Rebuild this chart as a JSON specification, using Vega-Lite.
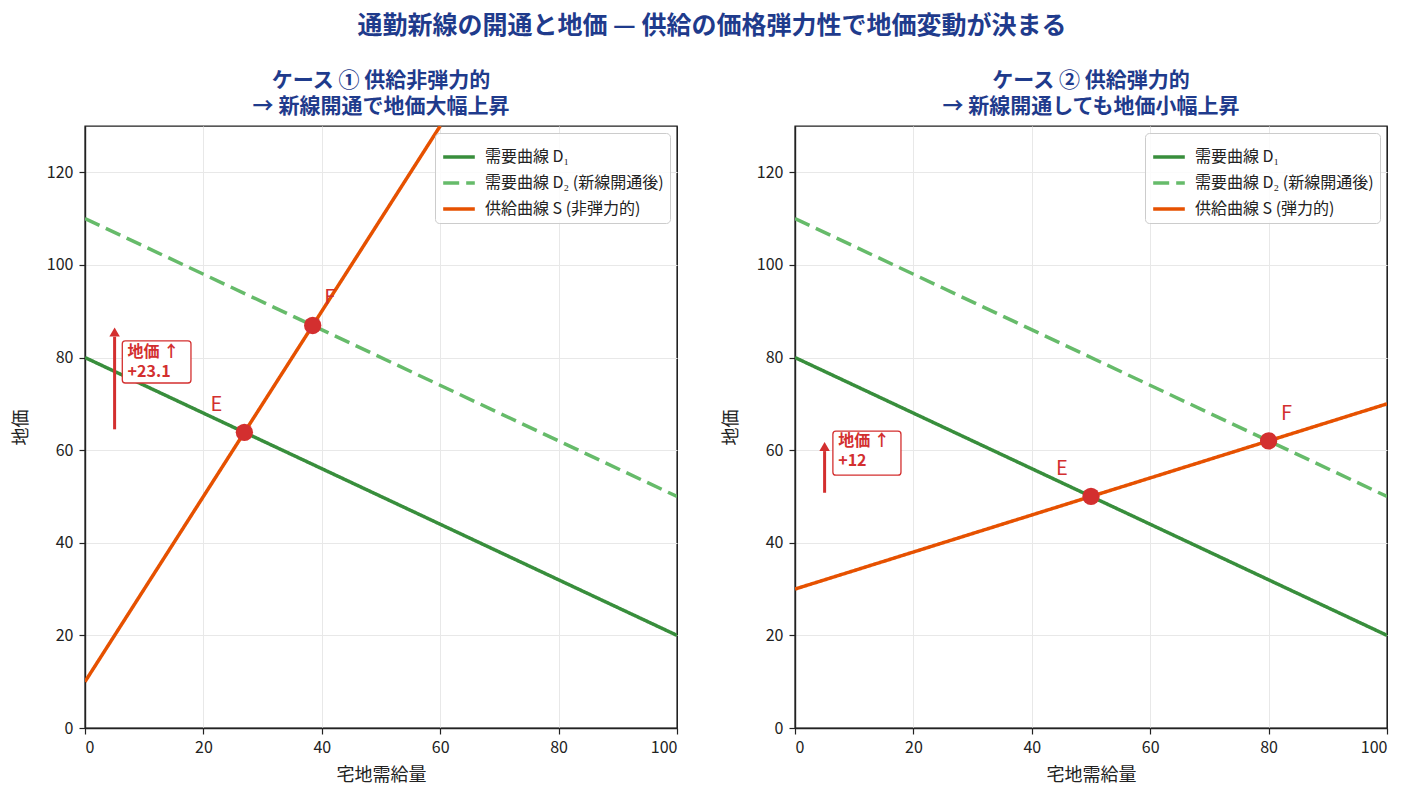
{
  "$schema": "https://vega.github.io/schema/vega-lite/v6.json",
  "background": "white",
  "padding": {"left": 11, "top": 14, "right": 10, "bottom": 5},
  "title": {
    "text": "通勤新線の開通と地価 — 供給の価格弾力性で地価変動が決まる",
    "fontSize": 25,
    "fontWeight": "bold",
    "color": "#1f3b8c",
    "anchor": "middle",
    "offset": 30,
    "dx": 12
  },
  "config": {
    "font": "Noto Sans CJK JP",
    "view": {"stroke": "#222222", "strokeWidth": 1.4},
    "axis": {
      "domain": true,
      "domainColor": "#222222",
      "domainWidth": 1.4,
      "grid": true,
      "tickColor": "#222222",
      "tickSize": 6,
      "tickWidth": 1.2,
      "labelFontSize": 16,
      "labelColor": "#222222",
      "titleFontSize": 18,
      "titleFontWeight": "normal",
      "titleColor": "#222222",
      "labelFont": "Noto Sans CJK JP",
      "titleFont": "Noto Sans CJK JP"
    },
    "axisX": {
      "labelPadding": 5,
      "titlePadding": 11,
      "gridColor": {"condition": {"test": "datum.value == 0 || datum.value == 100", "value": "#222222"}, "value": "#e8e8e8"}
    },
    "axisY": {
      "labelPadding": 6,
      "titlePadding": 16,
      "gridColor": {"condition": {"test": "datum.value == 0", "value": "#222222"}, "value": "#e8e8e8"}
    },
    "legend": {
      "orient": "top-right",
      "offset": 7,
      "fillColor": "rgba(255,255,255,0.8)",
      "strokeColor": "#cccccc",
      "cornerRadius": 4,
      "padding": 6,
      "labelFontSize": 16,
      "labelLimit": 400,
      "labelOffset": 8,
      "labelColor": "#222222",
      "labelFont": "Noto Sans CJK JP",
      "symbolType": "stroke",
      "symbolSize": 1000,
      "symbolStrokeWidth": 3.5,
      "rowPadding": -6
    },
    "title": {"font": "Noto Sans CJK JP"}
  },
  "datasets": {
    "lines1": [
      {"series": "需要曲線 D₁", "x": 0, "y": 80},
      {"series": "需要曲線 D₁", "x": 100, "y": 20},
      {"series": "需要曲線 D₂ (新線開通後)", "x": 0, "y": 110},
      {"series": "需要曲線 D₂ (新線開通後)", "x": 100, "y": 50},
      {"series": "供給曲線 S (非弾力的)", "x": 0, "y": 10},
      {"series": "供給曲線 S (非弾力的)", "x": 60, "y": 130}
    ],
    "pts1": [
      {"label": "E", "x": 26.92, "y": 63.85},
      {"label": "F", "x": 38.46, "y": 86.92}
    ],
    "ann1": [
      {"text": ["地価 ↑", "+23.1"], "tx": 7.2, "ty": 81.2, "bx": 6.3, "bx2": 17.9, "by": 74.5, "by2": 83.6, "ax": 5, "ay": 64.5, "ay2": 84.5, "tip": 85.5}
    ],
    "lines2": [
      {"series": "需要曲線 D₁", "x": 0, "y": 80},
      {"series": "需要曲線 D₁", "x": 100, "y": 20},
      {"series": "需要曲線 D₂ (新線開通後)", "x": 0, "y": 110},
      {"series": "需要曲線 D₂ (新線開通後)", "x": 100, "y": 50},
      {"series": "供給曲線 S (弾力的)", "x": 0, "y": 30},
      {"series": "供給曲線 S (弾力的)", "x": 100, "y": 70}
    ],
    "pts2": [
      {"label": "E", "x": 50, "y": 50},
      {"label": "F", "x": 80, "y": 62}
    ],
    "ann2": [
      {"text": ["地価 ↑", "+12"], "tx": 7.3, "ty": 62.0, "bx": 6.4, "bx2": 17.9, "by": 54.6, "by2": 64.1, "ax": 5, "ay": 50.8, "ay2": 59.8, "tip": 60.8}
    ]
  },
  "spacing": 42,
  "resolve": {"scale": {"color": "independent", "strokeDash": "independent"}},
  "hconcat": [
    {
      "width": 592,
      "height": 602,
      "title": {
        "text": ["ケース ① 供給非弾力的", "→ 新線開通で地価大幅上昇"],
        "fontSize": 21,
        "fontWeight": "bold",
        "color": "#1f3b8c",
        "anchor": "middle",
        "offset": 9,
        "lineHeight": 26
      },
      "layer": [
        {
          "data": {"name": "lines1"},
          "mark": {"type": "line", "strokeWidth": 3.5, "clip": true},
          "encoding": {
            "x": {"field": "x", "type": "quantitative", "scale": {"domain": [0, 100], "nice": false}, "axis": {"values": [0, 20, 40, 60, 80, 100], "title": "宅地需給量"}},
            "y": {"field": "y", "type": "quantitative", "scale": {"domain": [0, 130], "nice": false}, "axis": {"values": [0, 20, 40, 60, 80, 100, 120], "title": "地価"}},
            "detail": {"field": "series"},
            "color": {
              "field": "series", "type": "nominal", "title": null,
              "scale": {"domain": ["需要曲線 D₁", "需要曲線 D₂ (新線開通後)", "供給曲線 S (非弾力的)"], "range": ["#388e3c", "#66bb6a", "#e65100"]}
            },
            "strokeDash": {
              "field": "series", "type": "nominal", "title": null,
              "scale": {"domain": ["需要曲線 D₁", "需要曲線 D₂ (新線開通後)", "供給曲線 S (非弾力的)"], "range": [[1, 0], [16, 7], [1, 0]]}
            }
          }
        },
        {
          "data": {"name": "pts1"},
          "mark": {"type": "circle", "size": 300, "color": "#d32f2f", "opacity": 1},
          "encoding": {"x": {"field": "x", "type": "quantitative"}, "y": {"field": "y", "type": "quantitative"}}
        },
        {
          "data": {"name": "pts1"},
          "transform": [{"filter": "datum.label == 'E'"}],
          "mark": {"type": "text", "fontSize": 20, "color": "#d32f2f", "dx": -28, "dy": -27},
          "encoding": {"x": {"field": "x", "type": "quantitative"}, "y": {"field": "y", "type": "quantitative"}, "text": {"field": "label"}}
        },
        {
          "data": {"name": "pts1"},
          "transform": [{"filter": "datum.label == 'F'"}],
          "mark": {"type": "text", "fontSize": 20, "color": "#d32f2f", "dx": 17, "dy": -27},
          "encoding": {"x": {"field": "x", "type": "quantitative"}, "y": {"field": "y", "type": "quantitative"}, "text": {"field": "label"}}
        },
        {
          "data": {"name": "ann1"},
          "mark": {"type": "rule", "strokeWidth": 3, "color": "#d32f2f"},
          "encoding": {"x": {"field": "ax", "type": "quantitative"}, "y": {"field": "ay", "type": "quantitative"}, "y2": {"field": "ay2"}}
        },
        {
          "data": {"name": "ann1"},
          "mark": {"type": "point", "shape": "triangle-up", "filled": true, "size": 110, "color": "#d32f2f", "opacity": 1},
          "encoding": {"x": {"field": "ax", "type": "quantitative"}, "y": {"field": "tip", "type": "quantitative"}}
        },
        {
          "data": {"name": "ann1"},
          "mark": {"type": "rect", "fill": "white", "stroke": "#d32f2f", "strokeWidth": 1.3, "cornerRadius": 3},
          "encoding": {"x": {"field": "bx", "type": "quantitative"}, "x2": {"field": "bx2"}, "y": {"field": "by", "type": "quantitative"}, "y2": {"field": "by2"}}
        },
        {
          "data": {"name": "ann1"},
          "mark": {"type": "text", "align": "left", "baseline": "middle", "fontSize": 16, "fontWeight": "bold", "color": "#d32f2f", "lineHeight": 20},
          "encoding": {"x": {"field": "tx", "type": "quantitative"}, "y": {"field": "ty", "type": "quantitative"}, "text": {"field": "text"}}
        }
      ]
    },
    {
      "width": 592,
      "height": 602,
      "title": {
        "text": ["ケース ② 供給弾力的", "→ 新線開通しても地価小幅上昇"],
        "fontSize": 21,
        "fontWeight": "bold",
        "color": "#1f3b8c",
        "anchor": "middle",
        "offset": 9,
        "lineHeight": 26
      },
      "layer": [
        {
          "data": {"name": "lines2"},
          "mark": {"type": "line", "strokeWidth": 3.5, "clip": true},
          "encoding": {
            "x": {"field": "x", "type": "quantitative", "scale": {"domain": [0, 100], "nice": false}, "axis": {"values": [0, 20, 40, 60, 80, 100], "title": "宅地需給量"}},
            "y": {"field": "y", "type": "quantitative", "scale": {"domain": [0, 130], "nice": false}, "axis": {"values": [0, 20, 40, 60, 80, 100, 120], "title": "地価"}},
            "detail": {"field": "series"},
            "color": {
              "field": "series", "type": "nominal", "title": null,
              "scale": {"domain": ["需要曲線 D₁", "需要曲線 D₂ (新線開通後)", "供給曲線 S (弾力的)"], "range": ["#388e3c", "#66bb6a", "#e65100"]}
            },
            "strokeDash": {
              "field": "series", "type": "nominal", "title": null,
              "scale": {"domain": ["需要曲線 D₁", "需要曲線 D₂ (新線開通後)", "供給曲線 S (弾力的)"], "range": [[1, 0], [16, 7], [1, 0]]}
            }
          }
        },
        {
          "data": {"name": "pts2"},
          "mark": {"type": "circle", "size": 300, "color": "#d32f2f", "opacity": 1},
          "encoding": {"x": {"field": "x", "type": "quantitative"}, "y": {"field": "y", "type": "quantitative"}}
        },
        {
          "data": {"name": "pts2"},
          "transform": [{"filter": "datum.label == 'E'"}],
          "mark": {"type": "text", "fontSize": 20, "color": "#d32f2f", "dx": -29, "dy": -27},
          "encoding": {"x": {"field": "x", "type": "quantitative"}, "y": {"field": "y", "type": "quantitative"}, "text": {"field": "label"}}
        },
        {
          "data": {"name": "pts2"},
          "transform": [{"filter": "datum.label == 'F'"}],
          "mark": {"type": "text", "fontSize": 20, "color": "#d32f2f", "dx": 18, "dy": -27},
          "encoding": {"x": {"field": "x", "type": "quantitative"}, "y": {"field": "y", "type": "quantitative"}, "text": {"field": "label"}}
        },
        {
          "data": {"name": "ann2"},
          "mark": {"type": "rule", "strokeWidth": 3, "color": "#d32f2f"},
          "encoding": {"x": {"field": "ax", "type": "quantitative"}, "y": {"field": "ay", "type": "quantitative"}, "y2": {"field": "ay2"}}
        },
        {
          "data": {"name": "ann2"},
          "mark": {"type": "point", "shape": "triangle-up", "filled": true, "size": 110, "color": "#d32f2f", "opacity": 1},
          "encoding": {"x": {"field": "ax", "type": "quantitative"}, "y": {"field": "tip", "type": "quantitative"}}
        },
        {
          "data": {"name": "ann2"},
          "mark": {"type": "rect", "fill": "white", "stroke": "#d32f2f", "strokeWidth": 1.3, "cornerRadius": 3},
          "encoding": {"x": {"field": "bx", "type": "quantitative"}, "x2": {"field": "bx2"}, "y": {"field": "by", "type": "quantitative"}, "y2": {"field": "by2"}}
        },
        {
          "data": {"name": "ann2"},
          "mark": {"type": "text", "align": "left", "baseline": "middle", "fontSize": 16, "fontWeight": "bold", "color": "#d32f2f", "lineHeight": 20},
          "encoding": {"x": {"field": "tx", "type": "quantitative"}, "y": {"field": "ty", "type": "quantitative"}, "text": {"field": "text"}}
        }
      ]
    }
  ]
}
